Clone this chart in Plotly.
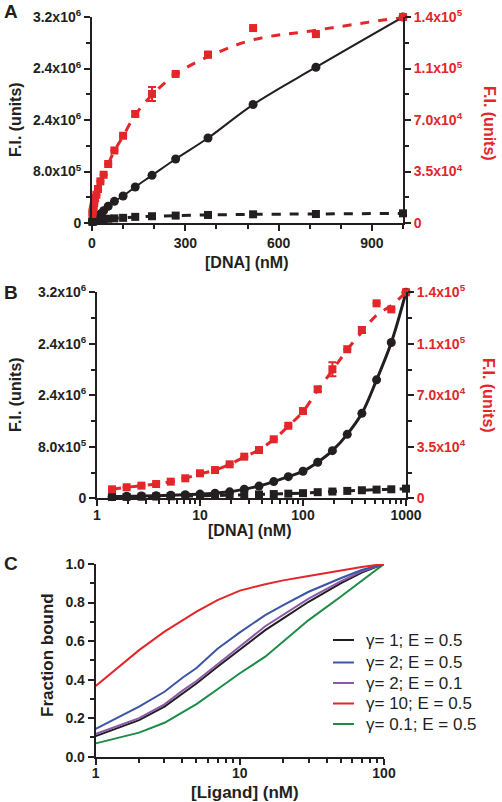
import plotly.graph_objects as go

# ---------------- data ----------------
dna_nM = [1.4, 1.94, 2.7, 3.75, 5.2, 7.2, 10, 14, 19.4, 26.9, 37.4, 52, 72, 100,
          139, 193, 269, 373, 518, 720, 1000]
fi_circles = [0.025e6, 0.03e6, 0.035e6, 0.04e6, 0.047e6, 0.055e6, 0.065e6, 0.08e6,
              0.10e6, 0.14e6, 0.19e6, 0.26e6, 0.336e6, 0.42e6, 0.56e6, 0.74e6,
              0.994e6, 1.32e6, 1.84e6, 2.42e6, 3.2e6]
fi_squares_black = [0.02e6, 0.022e6, 0.025e6, 0.028e6, 0.031e6, 0.035e6, 0.039e6,
                    0.043e6, 0.048e6, 0.054e6, 0.06e6, 0.066e6, 0.072e6, 0.08e6,
                    0.095e6, 0.105e6, 0.115e6, 0.125e6, 0.135e6, 0.14e6, 0.15e6]
fi_squares_red = [0.061e5, 0.075e5, 0.086e5, 0.097e5, 0.113e5, 0.136e5, 0.17e5,
                  0.192e5, 0.231e5, 0.283e5, 0.328e5, 0.401e5, 0.493e5, 0.593e5,
                  0.741e5, 0.877e5, 1.013e5, 1.144e5, 1.325e5, 1.284e5, 1.40e5]
fi_red_err = [0, 0, 0, 0, 0, 0, 0, 0, 0, 0, 0, 0, 0, 0,
              1500, 4800, 0, 2000, 0, 0, 0]
fi_red_fit = [0.061e5, 0.075e5, 0.086e5, 0.097e5, 0.113e5, 0.136e5, 0.165e5,
              0.192e5, 0.231e5, 0.28e5, 0.33e5, 0.40e5, 0.49e5, 0.59e5,
              0.735e5, 0.87e5, 1.01e5, 1.13e5, 1.245e5, 1.31e5, 1.40e5]

left_tickvals = [0, 8e5, 1.6e6, 2.4e6, 3.2e6]
left_ticktext = ["0", "8.0x10<sup>5</sup>", "2.4x10<sup>6</sup>", "2.4x10<sup>6</sup>",
                 "3.2x10<sup>6</sup>"]
right_tickvals = [0, 35000, 70000, 105000, 140000]
right_ticktext = ["0", "3.5x10<sup>4</sup>", "7.0x10<sup>4</sup>", "1.1x10<sup>5</sup>",
                  "1.4x10<sup>5</sup>"]

ligand_nM = [1, 2, 3, 4, 5, 7, 10, 15, 20, 30, 50, 70, 100]
frac_g1_e05 = [0.107, 0.19, 0.26, 0.33, 0.38, 0.467, 0.554, 0.657, 0.718, 0.804, 0.90, 0.955, 1.0]
frac_g2_e05 = [0.144, 0.26, 0.337, 0.41, 0.46, 0.56, 0.645, 0.735, 0.787, 0.856, 0.926, 0.969, 1.0]
frac_g2_e01 = [0.118, 0.20, 0.272, 0.343, 0.393, 0.482, 0.572, 0.677, 0.736, 0.82, 0.91, 0.962, 1.0]
frac_g10_e05 = [0.367, 0.553, 0.649, 0.709, 0.753, 0.813, 0.862, 0.895, 0.915, 0.938, 0.967, 0.985, 1.0]
frac_g01_e05 = [0.069, 0.125, 0.176, 0.23, 0.273, 0.35, 0.433, 0.519, 0.597, 0.709, 0.83, 0.913, 1.0]
legend_labels = ["γ= 1; E = 0.5", "γ= 2; E = 0.5", "γ= 2; E = 0.1",
                 "γ= 10; E = 0.5", "γ= 0.1; E = 0.5"]

# ---------------- style ----------------
W, H = 502, 802
FONT = "Liberation Sans, Arial, Helvetica, sans-serif"
BLACK = "#231f20"
RED = "#e3262a"
C_COLORS = [BLACK, "#3a55a4", "#8a5aa8", RED, "#1c8c47"]


def fx(px):
    return px / W


def fy(py):
    return 1 - py / H


fig = go.Figure()

# ---------- Panel A ----------
fig.add_trace(go.Scatter(x=dna_nM, y=fi_circles, mode="lines+markers",
                         line=dict(color=BLACK, width=2, shape="spline"),
                         marker=dict(symbol="circle", size=9, color=BLACK),
                         xaxis="x", yaxis="y", cliponaxis=False, showlegend=False))
fig.add_trace(go.Scatter(x=dna_nM, y=fi_squares_black, mode="lines+markers",
                         line=dict(color=BLACK, width=3, dash="dash", shape="spline"),
                         marker=dict(symbol="square", size=8, color=BLACK),
                         xaxis="x", yaxis="y", cliponaxis=False, showlegend=False))
fig.add_trace(go.Scatter(x=dna_nM, y=fi_red_fit, mode="lines",
                         line=dict(color=RED, width=3, dash="dash", shape="spline"),
                         xaxis="x", yaxis="y2", cliponaxis=False, showlegend=False))
fig.add_trace(go.Scatter(x=dna_nM, y=fi_squares_red, mode="markers",
                         marker=dict(symbol="square", size=8, color=RED),
                         error_y=dict(type="data", array=fi_red_err, color=RED,
                                      thickness=2, width=4),
                         xaxis="x", yaxis="y2", cliponaxis=False, showlegend=False))

# ---------- Panel B ----------
fig.add_trace(go.Scatter(x=dna_nM, y=fi_circles, mode="lines+markers",
                         line=dict(color=BLACK, width=3, shape="spline"),
                         marker=dict(symbol="circle", size=9, color=BLACK),
                         xaxis="x3", yaxis="y3", cliponaxis=False, showlegend=False))
fig.add_trace(go.Scatter(x=dna_nM, y=fi_squares_black, mode="lines+markers",
                         line=dict(color=BLACK, width=3, dash="dash", shape="spline"),
                         marker=dict(symbol="square", size=8, color=BLACK),
                         xaxis="x3", yaxis="y3", cliponaxis=False, showlegend=False))
fig.add_trace(go.Scatter(x=dna_nM, y=fi_red_fit, mode="lines",
                         line=dict(color=RED, width=3, dash="dash", shape="spline"),
                         xaxis="x3", yaxis="y4", cliponaxis=False, showlegend=False))
fig.add_trace(go.Scatter(x=dna_nM, y=fi_squares_red, mode="markers",
                         marker=dict(symbol="square", size=8, color=RED),
                         error_y=dict(type="data", array=fi_red_err, color=RED,
                                      thickness=2, width=4),
                         xaxis="x3", yaxis="y4", cliponaxis=False, showlegend=False))

# ---------- Panel C ----------
c_series = [frac_g1_e05, frac_g2_e05, frac_g2_e01, frac_g10_e05, frac_g01_e05]
c_order = [4, 0, 2, 1, 3]
for i in c_order:
    fig.add_trace(go.Scatter(x=ligand_nM, y=c_series[i], mode="lines",
                             line=dict(color=C_COLORS[i], width=2),
                             xaxis="x5", yaxis="y5", showlegend=False))

tick_font = dict(family=FONT, size=14, color=BLACK, weight="bold")
common = dict(showline=True, linecolor=BLACK, linewidth=2, ticks="outside",
              ticklen=6, tickwidth=2, tickcolor=BLACK, showgrid=False,
              zeroline=False, tickfont=tick_font, automargin=False)
minor_common = dict(ticklen=4, tickwidth=2, tickcolor=BLACK, ticks="outside")
red_tick_font = dict(family=FONT, size=14, color=RED, weight="bold")

fig.update_layout(
    width=W, height=H, margin=dict(l=0, r=0, t=0, b=0, pad=0),
    paper_bgcolor="white", plot_bgcolor="white",
    font=dict(family=FONT, color=BLACK),
    xaxis=dict(domain=[fx(92), fx(403)], anchor="y", range=[0, 1000],
               tickvals=[0, 300, 600, 900],
               minor=dict(dtick=100, tick0=0, **minor_common),
               **common),
    yaxis=dict(domain=[fy(223), fy(17)], anchor="x", range=[0, 3.2e6],
               tickvals=left_tickvals, ticktext=left_ticktext,
               minor=dict(dtick=4e5, tick0=0, **minor_common),
               **common),
    yaxis2=dict(domain=[fy(223), fy(17)], anchor="x", overlaying="y", side="right",
                range=[0, 1.4e5], tickvals=right_tickvals, ticktext=right_ticktext,
                minor=dict(dtick=17500, tick0=0, **minor_common),
                **{**common, "tickfont": red_tick_font}),
    xaxis3=dict(domain=[fx(97), fx(406)], anchor="y3", type="log", range=[0, 3],
                tickvals=[1, 10, 100, 1000], ticktext=["1", "10", "100", "1000"],
                minor=dict(dtick="D1", **minor_common), ticklabelstandoff=-3,
                **common),
    yaxis3=dict(domain=[fy(498.3), fy(292.3)], anchor="x3", range=[0, 3.2e6],
                tickvals=left_tickvals, ticktext=left_ticktext,
                minor=dict(dtick=4e5, tick0=0, **minor_common),
                **common),
    yaxis4=dict(domain=[fy(498.3), fy(292.3)], anchor="x3", overlaying="y3", side="right",
                range=[0, 1.4e5], tickvals=right_tickvals, ticktext=right_ticktext,
                minor=dict(dtick=17500, tick0=0, **minor_common),
                **{**common, "tickfont": red_tick_font}),
    xaxis5=dict(domain=[fx(95.7), fx(384)], anchor="y5", type="log", range=[0, 2],
                tickvals=[1, 10, 100], ticktext=["1", "10", "100"],
                minor=dict(dtick="D1", **minor_common), ticklabelstandoff=-4,
                **common),
    yaxis5=dict(domain=[fy(756.7), fy(564)], anchor="x5", range=[0, 1],
                tickvals=[0, 0.2, 0.4, 0.6, 0.8, 1.0],
                ticktext=["0.0", "0.2", "0.4", "0.6", "0.8", "1.0"],
                minor=dict(dtick=0.1, tick0=0, **minor_common),
                **common),
)

annotations = []


def add_text(text, x, y, size, color=BLACK, angle=0, bold=True, xanchor="center"):
    annotations.append(dict(
        text=("<b>%s</b>" % text) if bold else text,
        x=fx(x), y=fy(y), xref="paper", yref="paper", showarrow=False,
        textangle=angle, xanchor=xanchor, yanchor="middle",
        font=dict(family=FONT, size=size, color=color)))


# panel letters
add_text("A", 11, 12, 19)
add_text("B", 11, 292, 19)
add_text("C", 11, 563, 19)
# axis titles
add_text("F.I. (units)", 15, 120, 16, angle=-90)
add_text("F.I. (units)", 489, 123, 16, color=RED, angle=90)
add_text("[DNA] (nM)", 247, 263, 16)
add_text("F.I. (units)", 15, 395, 16, angle=-90)
add_text("F.I. (units)", 489, 395, 16, color=RED, angle=90)
add_text("[DNA] (nM)", 250, 530, 16)
add_text("Fraction bound", 47, 655, 17, angle=-90)
add_text("[Ligand] (nM)", 245, 792, 17)

# manual legend for panel C
legend_rows = [640, 662.5, 683, 703.5, 724]
shapes = []
for i, lab in enumerate(legend_labels):
    yy = legend_rows[i]
    shapes.append(dict(type="line", xref="paper", yref="paper",
                       x0=fx(333), x1=fx(354), y0=fy(yy), y1=fy(yy),
                       line=dict(color=C_COLORS[i], width=2)))
    add_text(lab, 364, yy, 17, bold=False, xanchor="left")

fig.update_layout(annotations=annotations, shapes=shapes)

fig.write_html("out.html", config={"displayModeBar": False},
               post_script="document.body.style.margin='0';"
                           "document.body.style.overflow='hidden';")
